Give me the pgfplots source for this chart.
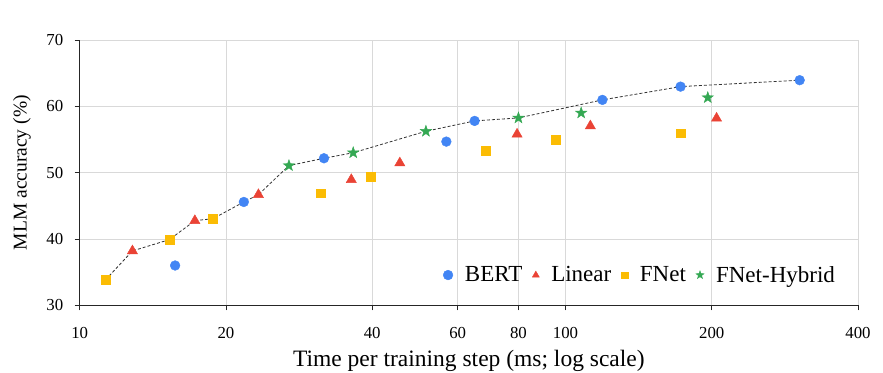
\documentclass[border=0pt]{standalone}
\usepackage{fontspec}
\setmainfont{Liberation Serif}
\usepackage{pgfplots}
\pgfplotsset{compat=1.18}
\definecolor{cbert}{HTML}{4285F4}
\definecolor{clin}{HTML}{EA4335}
\definecolor{cfnet}{HTML}{FBBC04}
\definecolor{chyb}{HTML}{34A853}
\definecolor{gridc}{HTML}{D9D9D9}
\pgfdeclareplotmark{fstar}{%
  \pgfpathmoveto{\pgfpointpolar{90}{\pgfplotmarksize}}%
  \pgfpathlineto{\pgfpointpolar{126}{0.40\pgfplotmarksize}}%
  \pgfpathlineto{\pgfpointpolar{162}{\pgfplotmarksize}}%
  \pgfpathlineto{\pgfpointpolar{198}{0.40\pgfplotmarksize}}%
  \pgfpathlineto{\pgfpointpolar{234}{\pgfplotmarksize}}%
  \pgfpathlineto{\pgfpointpolar{270}{0.40\pgfplotmarksize}}%
  \pgfpathlineto{\pgfpointpolar{306}{\pgfplotmarksize}}%
  \pgfpathlineto{\pgfpointpolar{342}{0.40\pgfplotmarksize}}%
  \pgfpathlineto{\pgfpointpolar{18}{\pgfplotmarksize}}%
  \pgfpathlineto{\pgfpointpolar{54}{0.40\pgfplotmarksize}}%
  \pgfpathclose
  \pgfusepathqfillstroke}
\begin{document}
\begin{tikzpicture}
\begin{axis}[
  width=778.3pt, height=265.3pt, scale only axis,
  xmode=log, xmin=10, xmax=400, ymin=30, ymax=70,
  xtick={10,20,40,60,80,100,200,400},
  xticklabels={10,20,40,60,80,100,200,400},
  ytick={30,40,50,60,70},
  xminorticks=false, yminorticks=false,
  /pgf/number format/assume math mode=true,
  grid=major, major grid style={gridc, line width=0.8pt},
  axis x line*=bottom, axis y line*=left,
  axis line style={-, black!85, line width=0.9pt},
  tick align=outside, major tick length=5pt,
  tick style={black!85, line width=0.8pt},
  tick label style={font=\fontsize{16.8}{19}\selectfont},
  xticklabel style={anchor=base, yshift=-28pt},
  yticklabel style={anchor=east, xshift=-8pt},
  xlabel={Time per training step (ms; log scale)},
  ylabel={MLM accuracy (\%)},
  xlabel style={at={(axis description cs:0.5,-0.2314)}, anchor=base, font=\fontsize{23.5}{26}\selectfont},
  ylabel style={at={(axis description cs:-0.0681,0.5)}, anchor=base, rotate=0, font=\fontsize{19.5}{22}\selectfont},
  legend style={draw=none, fill=none, at={(axis description cs:0.977,0.114)}, anchor=east,
    font=\fontsize{23}{26}\selectfont, legend columns=4,
    /tikz/every even column/.append style={column sep=8pt},
    /tikz/every odd column/.append style={column sep=10pt}},
  legend cell align=left,
  clip=false,
]
\addplot[only marks, mark=*, mark size=4.9pt, color=cbert, mark options={draw=cbert, fill=cbert}] coordinates {
(15.72,36.0) (21.77,45.58) (31.83,52.17) (56.85,54.68) (65.0,57.8) (119.1,60.97) (172.5,62.97) (303.4,63.94)};
\addlegendentry{BERT}
\addplot[only marks, mark=triangle*, mark size=5.9pt, color=clin, mark options={draw=clin, fill=clin}, legend image post style={mark size=4pt}] coordinates {
(12.84,38.2) (17.26,42.76) (23.33,46.68) (36.23,48.94) (45.6,51.46) (79.5,55.8) (112.5,57.04) (204.6,58.2)};
\addlegendentry{Linear}
\addplot[only marks, mark=square*, mark size=4.4pt, color=cfnet, mark options={draw=cfnet, fill=cfnet}, legend image post style={mark size=3.3pt}] coordinates {
(11.31,33.86) (15.30,39.9) (18.82,43.06) (31.32,46.9) (39.7,49.4) (68.5,53.27) (95.3,54.98) (172.5,55.94)};
\addlegendentry{FNet}
\addplot[only marks, mark=fstar, mark size=6pt, color=chyb, mark options={draw=chyb, fill=chyb, line width=0.4pt}, legend image post style={mark size=4.3pt}] coordinates {
(26.96,51.06) (36.56,53.0) (51.6,56.24) (80.0,58.25) (107.7,59.0) (196.3,61.31)};
\addlegendentry{FNet-Hybrid}
\addplot[forget plot, black!80, densely dashed, line width=0.8pt] coordinates {
(11.31,33.86) (12.84,38.2) (15.30,39.9) (17.26,42.76) (18.82,43.06) (21.77,45.58) (23.33,46.68) (26.96,51.06) (31.83,52.17) (36.56,53.0) (51.6,56.24) (65.0,57.8) (80.0,58.25) (119.1,60.97) (172.5,62.97) (303.4,63.94)};
\coordinate (ll) at (rel axis cs:0,0);
\coordinate (ur) at (rel axis cs:1,1);
\end{axis}
\pgfresetboundingbox
\path ([shift={(-79.7pt,-67.7pt)}]ll) rectangle ([shift={(25pt,40pt)}]ur);
\end{tikzpicture}
\end{document}
